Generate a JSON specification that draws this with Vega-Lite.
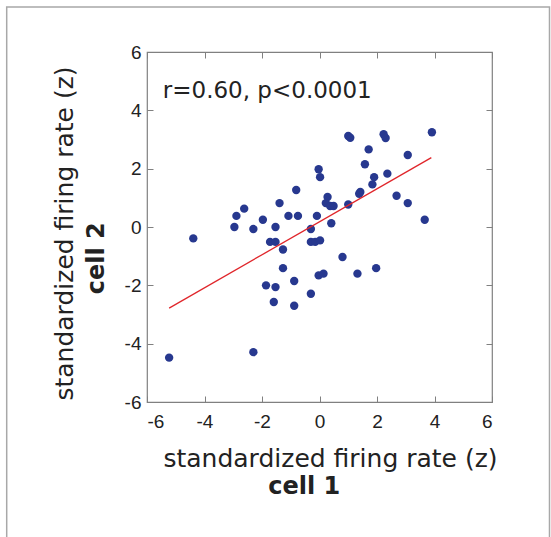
{
  "$schema": "https://vega.github.io/schema/vega-lite/v6.json",
  "width": 345,
  "height": 350,
  "autosize": {"type": "none"},
  "padding": {"left": 147, "top": 52, "right": 59, "bottom": 135},
  "background": "white",
  "config": {
    "view": {"stroke": "#808080", "strokeWidth": 1.2},
    "axis": {
      "grid": false,
      "domain": false,
      "tickColor": "#808080",
      "tickSize": -6,
      "labelFont": "Liberation Sans",
      "labelFontSize": 19,
      "labelColor": "#222222",
      "labelExpr": "toString(datum.value)",
      "titleFont": "DejaVu Sans",
      "titleFontSize": 25,
      "titleFontWeight": "normal",
      "titleColor": "#222222"
    }
  },
  "datasets": {
    "pts": [
      {"x": -5.23, "y": -4.48}, {"x": -2.30, "y": -4.29}, {"x": -4.39, "y": -0.39},
      {"x": -2.96, "y": 0.0}, {"x": -2.89, "y": 0.38}, {"x": -2.62, "y": 0.63},
      {"x": -2.30, "y": -0.07}, {"x": -1.97, "y": 0.25}, {"x": -1.53, "y": 0.0},
      {"x": -1.72, "y": -0.51}, {"x": -1.53, "y": -0.51}, {"x": -1.39, "y": 0.82},
      {"x": -1.08, "y": 0.38}, {"x": -0.75, "y": 0.38}, {"x": -0.81, "y": 1.27},
      {"x": -1.27, "y": -0.77}, {"x": -1.27, "y": -1.41}, {"x": -1.86, "y": -2.0},
      {"x": -1.53, "y": -2.06}, {"x": -0.88, "y": -1.85}, {"x": -1.59, "y": -2.57},
      {"x": -0.88, "y": -2.70}, {"x": -0.30, "y": -2.29}, {"x": -0.30, "y": -0.07},
      {"x": -0.30, "y": -0.51}, {"x": -0.15, "y": -0.51}, {"x": 0.02, "y": -0.46},
      {"x": -0.09, "y": 0.38}, {"x": -0.03, "y": 1.98}, {"x": 0.02, "y": 1.71},
      {"x": -0.03, "y": -1.66}, {"x": 0.14, "y": -1.60}, {"x": 0.28, "y": 1.03},
      {"x": 0.22, "y": 0.82}, {"x": 0.37, "y": 0.72}, {"x": 0.49, "y": 0.72},
      {"x": 0.41, "y": 0.13}, {"x": 0.80, "y": -1.03}, {"x": 1.0, "y": 0.77},
      {"x": 1.0, "y": 3.12}, {"x": 1.07, "y": 3.06}, {"x": 1.32, "y": -1.60},
      {"x": 1.42, "y": 1.2}, {"x": 1.38, "y": 1.14}, {"x": 1.58, "y": 2.15},
      {"x": 1.71, "y": 2.66}, {"x": 1.84, "y": 1.46}, {"x": 1.90, "y": 1.71},
      {"x": 1.97, "y": -1.41}, {"x": 2.23, "y": 3.18}, {"x": 2.30, "y": 3.05},
      {"x": 2.36, "y": 1.83}, {"x": 2.68, "y": 1.07}, {"x": 3.07, "y": 2.47},
      {"x": 3.07, "y": 0.82}, {"x": 3.66, "y": 0.25}, {"x": 3.91, "y": 3.25}
    ],
    "fit": [{"x": -5.23, "y": -2.78}, {"x": 3.89, "y": 2.38}],
    "notes": [{"label": "r=0.60, p<0.0001"}]
  },
  "layer": [
    {
      "data": {"name": "notes"},
      "mark": {"type": "rect", "fill": null, "stroke": "#a8a8a8", "strokeWidth": 1.5},
      "encoding": {
        "x": {"datum": -10.88, "type": "quantitative", "scale": {"domain": [-6, 6], "nice": false}, "axis": null},
        "x2": {"datum": 8.0},
        "y": {"datum": 7.54, "type": "quantitative", "scale": {"domain": [-6, 6], "nice": false}, "axis": null},
        "y2": {"datum": -11.5}
      }
    },
    {
      "data": {"name": "pts"},
      "mark": {"type": "circle", "size": 70, "color": "#27388f", "opacity": 1},
      "encoding": {
        "x": {
          "field": "x", "type": "quantitative",
          "scale": {"domain": [-6, 6], "nice": false},
          "axis": {
            "orient": "bottom",
            "values": [-6, -4, -2, 0, 2, 4, 6],
            "labelPadding": 16,
            "title": "standardized firing rate (z)",
            "titleX": 183, "titleY": 56, "titleBaseline": "middle", "titleAlign": "center"
          }
        },
        "y": {
          "field": "y", "type": "quantitative",
          "scale": {"domain": [-6, 6], "nice": false},
          "axis": {
            "orient": "left",
            "values": [-6, -4, -2, 0, 2, 4, 6],
            "labelPadding": 12,
            "title": "standardized firing rate (z)",
            "titleX": -83, "titleY": 181, "titleAngle": 270, "titleBaseline": "middle", "titleAlign": "center"
          }
        }
      }
    },
    {
      "data": {"name": "pts"},
      "mark": {"type": "point", "opacity": 0},
      "encoding": {
        "x": {
          "field": "x", "type": "quantitative",
          "scale": {"domain": [-6, 6], "nice": false},
          "axis": {"orient": "top", "values": [-6, -4, -2, 0, 2, 4, 6], "labels": false, "title": null}
        },
        "y": {
          "field": "y", "type": "quantitative",
          "scale": {"domain": [-6, 6], "nice": false},
          "axis": {"orient": "right", "values": [-6, -4, -2, 0, 2, 4, 6], "labels": false, "title": null}
        }
      }
    },
    {
      "data": {"name": "fit"},
      "mark": {"type": "line", "color": "#e0262b", "strokeWidth": 1.3},
      "encoding": {
        "x": {"field": "x", "type": "quantitative", "scale": {"domain": [-6, 6], "nice": false}, "axis": null},
        "y": {"field": "y", "type": "quantitative", "scale": {"domain": [-6, 6], "nice": false}, "axis": null}
      }
    },
    {
      "data": {"name": "notes"},
      "mark": {"type": "text", "font": "DejaVu Sans", "fontSize": 23, "align": "left", "baseline": "middle", "color": "#222222"},
      "encoding": {
        "text": {"field": "label"},
        "x": {"datum": -5.45, "type": "quantitative", "scale": {"domain": [-6, 6], "nice": false}, "axis": null},
        "y": {"datum": 4.66, "type": "quantitative", "scale": {"domain": [-6, 6], "nice": false}, "axis": null}
      }
    },
    {
      "data": {"name": "notes"},
      "mark": {"type": "text", "text": "cell 1", "font": "DejaVu Sans", "fontSize": 24, "fontWeight": "bold", "align": "center", "baseline": "middle", "color": "#222222"},
      "encoding": {
        "x": {"datum": -0.53, "type": "quantitative", "scale": {"domain": [-6, 6], "nice": false}, "axis": null},
        "y": {"datum": -8.93, "type": "quantitative", "scale": {"domain": [-6, 6], "nice": false}, "axis": null}
      }
    },
    {
      "data": {"name": "notes"},
      "mark": {"type": "text", "text": "cell 2", "font": "DejaVu Sans", "fontSize": 24, "fontWeight": "bold", "align": "center", "baseline": "middle", "angle": 270, "color": "#222222"},
      "encoding": {
        "x": {"datum": -7.75, "type": "quantitative", "scale": {"domain": [-6, 6], "nice": false}, "axis": null},
        "y": {"datum": -1.07, "type": "quantitative", "scale": {"domain": [-6, 6], "nice": false}, "axis": null}
      }
    }
  ],
  "resolve": {"axis": {"x": "independent", "y": "independent"}}
}
